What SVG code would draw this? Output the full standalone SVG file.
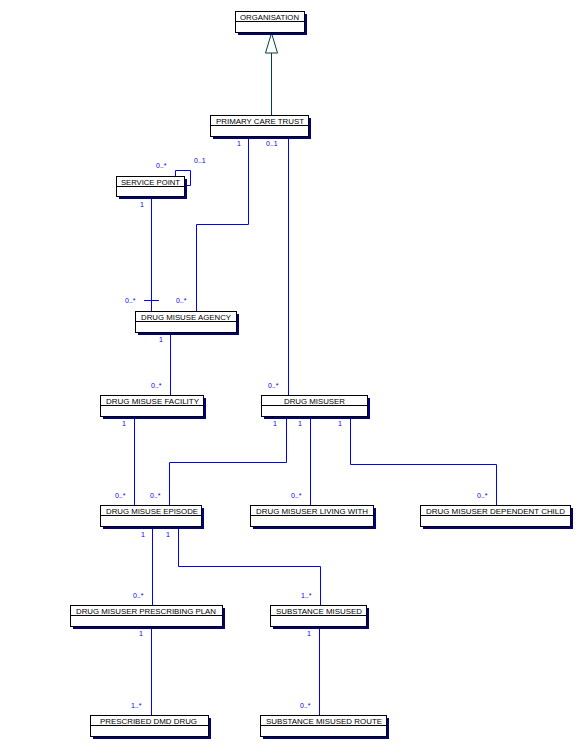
<svg xmlns="http://www.w3.org/2000/svg" width="583" height="751" viewBox="0 0 583 751">
<style>
.sh{fill:#000080}
.bx{fill:#fff;stroke:#000;stroke-width:1}
.dv{stroke:#000;stroke-width:1}
.t{font-family:"Liberation Sans",Arial,sans-serif;font-size:8px;fill:#000;text-anchor:start}
.c{fill:none;stroke:#0000ff;stroke-width:1}
.l{font-family:"Liberation Sans",Arial,sans-serif;font-size:7px;fill:#0000ff}
.inh{fill:none;stroke:#004040;stroke-width:1}
</style>
<rect width="583" height="751" fill="#fff"/>
<g id="connectors">
<line class="inh" x1="271.5" y1="53" x2="271.5" y2="115"/>
<polygon points="271.5,33 265.5,53 277.5,53" fill="#fff" stroke="#004040" stroke-width="1"/>
<path class="c" d="M248.5,137V224.5H196.5V311"/>
<path class="c" d="M288.5,137V395"/>
<path class="c" d="M175.5,176V170.5H190.5V185.5H184"/>
<path class="c" d="M151.5,197V311"/>
<path class="c" d="M144,300.5H159"/>
<path class="c" d="M170.5,332V395"/>
<path class="c" d="M134.5,417V505"/>
<path class="c" d="M286.5,417V462.5H169.5V505"/>
<path class="c" d="M310.5,417V505"/>
<path class="c" d="M350.5,417V464.5H496.5V505"/>
<path class="c" d="M152.5,527V605"/>
<path class="c" d="M178.5,527V566.5H320.5V605"/>
<path class="c" d="M151.5,627V715"/>
<path class="c" d="M319.5,627V715"/>
<text class="l" x="237" y="146">1</text>
<text class="l" x="266" y="146">0..1</text>
<text class="l" x="156" y="168">0..*</text>
<text class="l" x="194" y="163">0..1</text>
<text class="l" x="140" y="207">1</text>
<text class="l" x="125" y="303">0..*</text>
<text class="l" x="176" y="303">0..*</text>
<text class="l" x="159" y="342">1</text>
<text class="l" x="151" y="388">0..*</text>
<text class="l" x="268" y="388">0..*</text>
<text class="l" x="122" y="426">1</text>
<text class="l" x="273" y="426">1</text>
<text class="l" x="298" y="426">1</text>
<text class="l" x="338" y="426">1</text>
<text class="l" x="115" y="498">0..*</text>
<text class="l" x="150" y="498">0..*</text>
<text class="l" x="291" y="498">0..*</text>
<text class="l" x="477" y="498">0..*</text>
<text class="l" x="141" y="537">1</text>
<text class="l" x="166" y="537">1</text>
<text class="l" x="133" y="598">0..*</text>
<text class="l" x="301" y="598">1..*</text>
<text class="l" x="139" y="636">1</text>
<text class="l" x="307" y="636">1</text>
<text class="l" x="131" y="708">1..*</text>
<text class="l" x="300" y="708">0..*</text>
</g>
<g id="organisation">
<rect class="sh" x="238" y="14" width="69" height="21"/>
<rect class="bx" x="235.5" y="11.5" width="69" height="21"/>
<line class="dv" x1="235.5" y1="21.5" x2="304.5" y2="21.5"/>
<text class="t" x="240" y="19.5" textLength="59" lengthAdjust="spacingAndGlyphs">ORGANISATION</text>
</g>
<g id="primary-care-trust">
<rect class="sh" x="213" y="118" width="98" height="21"/>
<rect class="bx" x="210.5" y="115.5" width="98" height="21"/>
<line class="dv" x1="210.5" y1="125.5" x2="308.5" y2="125.5"/>
<text class="t" x="216" y="124" textLength="88" lengthAdjust="spacingAndGlyphs">PRIMARY CARE TRUST</text>
</g>
<g id="service-point">
<rect class="sh" x="119" y="179" width="68" height="20"/>
<rect class="bx" x="116.5" y="176.5" width="68" height="20"/>
<line class="dv" x1="116.5" y1="186.5" x2="184.5" y2="186.5"/>
<text class="t" x="121" y="185" textLength="59" lengthAdjust="spacingAndGlyphs">SERVICE POINT</text>
</g>
<g id="drug-misuse-agency">
<rect class="sh" x="138" y="314" width="101" height="21"/>
<rect class="bx" x="135.5" y="311.5" width="101" height="21"/>
<line class="dv" x1="135.5" y1="321.5" x2="236.5" y2="321.5"/>
<text class="t" x="141" y="320" textLength="90" lengthAdjust="spacingAndGlyphs">DRUG MISUSE AGENCY</text>
</g>
<g id="drug-misuse-facility">
<rect class="sh" x="103" y="398" width="103" height="21"/>
<rect class="bx" x="100.5" y="395.5" width="103" height="21"/>
<line class="dv" x1="100.5" y1="405.5" x2="203.5" y2="405.5"/>
<text class="t" x="106" y="404" textLength="93" lengthAdjust="spacingAndGlyphs">DRUG MISUSE FACILITY</text>
</g>
<g id="drug-misuser">
<rect class="sh" x="264" y="398" width="106" height="21"/>
<rect class="bx" x="261.5" y="395.5" width="106" height="21"/>
<line class="dv" x1="261.5" y1="405.5" x2="367.5" y2="405.5"/>
<text class="t" x="284" y="404" textLength="61" lengthAdjust="spacingAndGlyphs">DRUG MISUSER</text>
</g>
<g id="drug-misuse-episode">
<rect class="sh" x="103" y="508" width="101" height="21"/>
<rect class="bx" x="100.5" y="505.5" width="101" height="21"/>
<line class="dv" x1="100.5" y1="515.5" x2="201.5" y2="515.5"/>
<text class="t" x="106" y="514" textLength="92" lengthAdjust="spacingAndGlyphs">DRUG MISUSE EPISODE</text>
</g>
<g id="drug-misuser-living-with">
<rect class="sh" x="253" y="508" width="123" height="21"/>
<rect class="bx" x="250.5" y="505.5" width="123" height="21"/>
<line class="dv" x1="250.5" y1="515.5" x2="373.5" y2="515.5"/>
<text class="t" x="256" y="514" textLength="112" lengthAdjust="spacingAndGlyphs">DRUG MISUSER LIVING WITH</text>
</g>
<g id="drug-misuser-dependent-child">
<rect class="sh" x="423" y="508" width="150" height="21"/>
<rect class="bx" x="420.5" y="505.5" width="150" height="21"/>
<line class="dv" x1="420.5" y1="515.5" x2="570.5" y2="515.5"/>
<text class="t" x="426" y="514" textLength="139" lengthAdjust="spacingAndGlyphs">DRUG MISUSER DEPENDENT CHILD</text>
</g>
<g id="drug-misuser-prescribing-plan">
<rect class="sh" x="73" y="608" width="152" height="21"/>
<rect class="bx" x="70.5" y="605.5" width="152" height="21"/>
<line class="dv" x1="70.5" y1="615.5" x2="222.5" y2="615.5"/>
<text class="t" x="76" y="614" textLength="140" lengthAdjust="spacingAndGlyphs">DRUG MISUSER PRESCRIBING PLAN</text>
</g>
<g id="substance-misused">
<rect class="sh" x="273" y="608" width="96" height="21"/>
<rect class="bx" x="270.5" y="605.5" width="96" height="21"/>
<line class="dv" x1="270.5" y1="615.5" x2="366.5" y2="615.5"/>
<text class="t" x="276" y="614" textLength="86" lengthAdjust="spacingAndGlyphs">SUBSTANCE MISUSED</text>
</g>
<g id="prescribed-dmd-drug">
<rect class="sh" x="93" y="718" width="118" height="21"/>
<rect class="bx" x="90.5" y="715.5" width="118" height="21"/>
<line class="dv" x1="90.5" y1="725.5" x2="208.5" y2="725.5"/>
<text class="t" x="100" y="724" textLength="97" lengthAdjust="spacingAndGlyphs">PRESCRIBED DMD DRUG</text>
</g>
<g id="substance-misused-route">
<rect class="sh" x="263" y="718" width="126" height="21"/>
<rect class="bx" x="260.5" y="715.5" width="126" height="21"/>
<line class="dv" x1="260.5" y1="725.5" x2="386.5" y2="725.5"/>
<text class="t" x="266" y="724" textLength="116" lengthAdjust="spacingAndGlyphs">SUBSTANCE MISUSED ROUTE</text>
</g>
</svg>
